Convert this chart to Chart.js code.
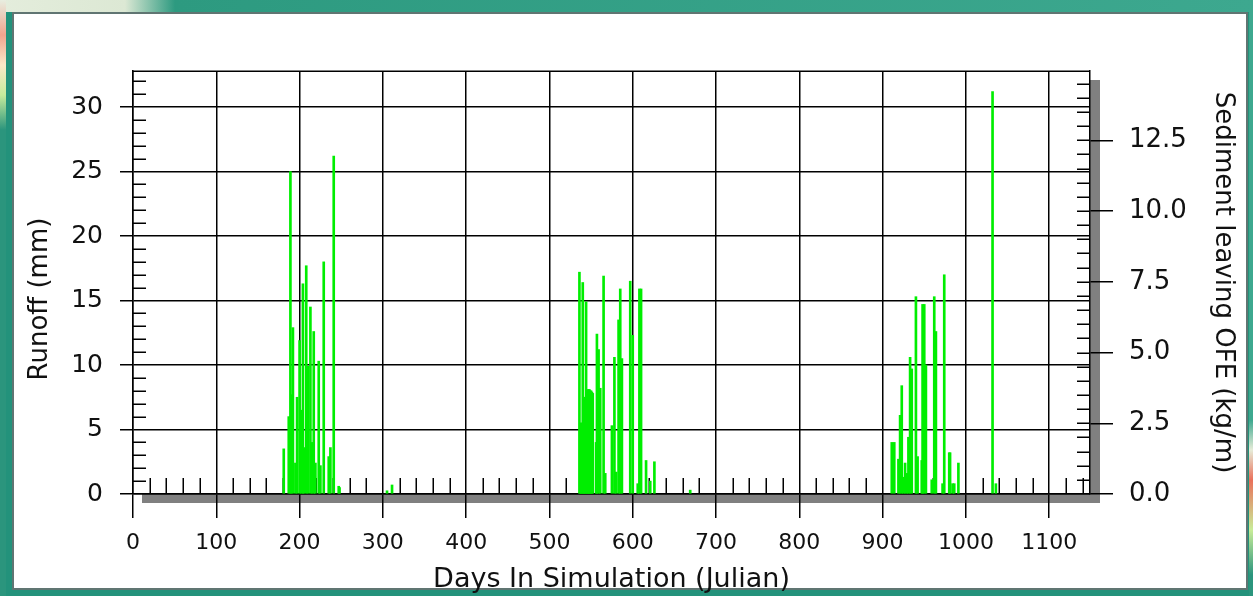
<!DOCTYPE html>
<html>
<head>
<meta charset="utf-8">
<script src="https://cdn.jsdelivr.net/npm/chart.js@4/dist/chart.umd.min.js"></script>
<style>
    html, body { margin: 0; padding: 0; }
    body { width: 1253px; height: 596px; position: relative; overflow: hidden; background: #23927b; }
    #topstrip { position: absolute; left: 0; top: 0; width: 1253px; height: 12px;
        background: linear-gradient(to right, #e4eddc 0px, #dce8d4 125px, #2d9a80 175px, #3da88f 1253px); }
    #leftstrip { position: absolute; left: 0; top: 0; width: 6px; height: 596px;
        background: linear-gradient(to bottom, #e8eee0 0px, #f2a48e 35px, #fbe9c8 65px, #c6ec9c 95px, #2b957d 130px, #2b957d 596px); }
    #rightstrip { position: absolute; left: 1249px; top: 0; width: 4px; height: 596px;
        background: linear-gradient(to bottom, #3da88f 0px, #3da88f 420px, #e6ecd8 450px, #e9705a 480px, #c8ec98 530px, #2b957d 575px); }
    #panel { position: absolute; left: 12px; top: 12px; width: 1232px; height: 574px; background: #fff; border: 2px solid #607572; }
    #wrap { position: absolute; left: 0; top: 0; width: 1253px; height: 596px; }
</style>
</head>
<body>
<div id="topstrip"></div>
<div id="leftstrip"></div>
<div id="rightstrip"></div>
<div id="panel"></div>
<div id="wrap"><canvas id="runoffChart" width="1253" height="596"></canvas></div>
<script>
// days with runoff and the runoff (mm) for each day
const days = [
    181, 187, 189, 190, 192, 195, 197, 200, 202, 204, 205, 208, 210, 213, 215, 217, 219, 223, 225, 229, 235, 237, 241, 247, 248,
    305, 311,
    536, 537, 538, 539, 540, 541, 542, 543, 544, 545, 546, 547, 548, 549, 550, 551, 552,
    556, 557, 559, 561, 565, 567, 575, 578, 580, 583, 585, 587, 597, 600, 606, 608, 610, 616, 621, 626,
    669,
    911, 914, 919, 921, 923, 925, 927, 929, 931, 933, 935, 940, 942, 947, 948, 950, 952, 959, 962, 964,
    972, 974, 980, 981, 984, 986, 991,
    1032, 1036
];
const runoff = [
    3.5, 6.0, 25.0, 7.7, 12.9, 2.4, 7.5, 11.9, 6.5, 16.3, 3.6, 17.7, 9.9, 14.5, 4.0, 12.6, 2.4, 10.3, 2.2, 18.0, 2.9, 3.6, 26.2, 0.6, 0.5,
    0.25, 0.7,
    17.2, 5.5, 5.5, 5.5, 16.4, 7.5, 7.5, 7.5, 14.9, 7.6, 8.1, 8.1, 8.1, 8.0, 8.0, 7.9, 7.8,
    4.0, 12.4, 11.2, 8.2, 16.9, 1.6, 5.3, 10.6, 1.7, 13.5, 15.9, 10.5, 16.5, 12.3, 0.8, 15.9, 15.9, 2.6, 1.0, 2.5,
    0.3,
    4.0, 4.0, 2.7, 6.1, 8.4, 1.3, 2.4, 1.6, 4.4, 10.6, 9.7, 15.3, 2.9, 2.6, 14.7, 14.7, 10.0, 1.1, 15.3, 12.6,
    0.8, 17.0, 3.2, 3.2, 0.8, 0.8, 2.4,
    31.2, 0.8
];

// tick labels
const dayTicks = [0, 100, 200, 300, 400, 500, 600, 700, 800, 900, 1000, 1100];
const runoffTicks = [0, 5, 10, 15, 20, 25, 30];
const sedimentTicks = [0, 2.5, 5, 7.5, 10, 12.5];

const FONT = "'DejaVu Sans', sans-serif";

// shadow under the frame + small inside ticks
const frameDeco = {
    id: 'frameDeco',
    beforeDraw(chart) {
        const { ctx, chartArea: a } = chart;
        ctx.save();
        ctx.fillStyle = '#808080';
        ctx.fillRect(a.left + 9, a.bottom, a.right + 10 - (a.left + 9), 9);
        ctx.fillRect(a.right, a.top + 9, 10, a.bottom - a.top);
        ctx.restore();
    },
    beforeDatasetsDraw(chart) {
        const { ctx, chartArea: a, scales } = chart;
        ctx.save();
        ctx.strokeStyle = '#000';
        ctx.lineWidth = 1.5;
        ctx.beginPath();
        for (let v = 20; v < scales.x.max; v += 20) {
            if (v % 100 === 0) continue;
            const px = Math.round(scales.x.getPixelForValue(v)) + 0.25;
            ctx.moveTo(px, a.bottom);
            ctx.lineTo(px, a.bottom - 16);
        }
        for (let v = 1; v < scales.y.max; v++) {
            if (v % 5 === 0) continue;
            const py = Math.round(scales.y.getPixelForValue(v)) + 0.25;
            ctx.moveTo(a.left, py);
            ctx.lineTo(a.left + 13, py);
        }
        for (let v = 0.5; v < scales.y2.max; v += 0.5) {
            const py = Math.round(scales.y2.getPixelForValue(v)) + 0.25;
            ctx.moveTo(a.right - 13, py);
            ctx.lineTo(a.right, py);
        }
        ctx.moveTo(a.left, Math.round(a.top) + 0.25);
        ctx.lineTo(a.right, Math.round(a.top) + 0.25);
        ctx.stroke();
        ctx.restore();
    }
};

const ctx = document.getElementById('runoffChart').getContext('2d');
new Chart(ctx, {
    type: 'bar',
    data: {
        datasets: [{
            label: 'Runoff (mm)',
            data: days.map((d, i) => ({ x: d, y: runoff[i] })),
            backgroundColor: '#00ee00',
            borderWidth: 0,
            barThickness: 2,
            xAxisID: 'x',
            yAxisID: 'y'
        }]
    },
    options: {
        responsive: false,
        animation: false,
        events: [],
        layout: { padding: { left: 14, right: 14, top: 71, bottom: 0 } },
        plugins: { legend: { display: false }, tooltip: { enabled: false } },
        scales: {
            x: {
                type: 'linear',
                position: 'bottom',
                offset: false,
                min: 0,
                max: 1149,
                afterBuildTicks: s => { s.ticks = dayTicks.map(v => ({ value: v })); },
                afterFit: s => { s.height = 102; },
                grid: { offset: false, color: '#000', lineWidth: 1.5, tickLength: 24 },
                border: { color: '#000', width: 1.5 },
                ticks: { color: '#111', font: { family: FONT, size: 22 }, padding: 12, maxRotation: 0, callback: v => String(v) },
                title: { display: true, text: 'Days In Simulation (Julian)', color: '#111',
                    font: { family: FONT, size: 27 }, padding: { top: 0, bottom: 0 } }
            },
            y: {
                position: 'left',
                min: 0,
                max: 32.8,
                afterBuildTicks: s => { s.ticks = runoffTicks.map(v => ({ value: v })); },
                afterFit: s => { s.width = 119; },
                grid: { color: '#000', lineWidth: 1.5, tickLength: 13 },
                border: { color: '#000', width: 1.5 },
                ticks: { color: '#111', font: { family: FONT, size: 25 }, padding: 17, callback: v => String(v) },
                title: { display: true, text: 'Runoff (mm)    ', color: '#111',
                    font: { family: FONT, size: 26 }, padding: { top: 11, bottom: 0 } }
            },
            y2: {
                position: 'right',
                min: 0,
                max: 14.95,
                afterBuildTicks: s => { s.ticks = sedimentTicks.map(v => ({ value: v })); },
                afterFit: s => { s.width = 149; },
                grid: { drawOnChartArea: false, color: '#000', lineWidth: 1.5, tickLength: 23 },
                border: { color: '#000', width: 1.5 },
                ticks: { color: '#111', font: { family: FONT, size: 26 }, padding: 16, callback: v => v.toFixed(1) },
                title: { display: true, text: 'Sediment leaving OFE (kg/m)', color: '#111',
                    font: { family: FONT, size: 26 }, padding: { top: 1, bottom: 0 } }
            }
        }
    },
    plugins: [frameDeco]
});
</script>
</body>
</html>
